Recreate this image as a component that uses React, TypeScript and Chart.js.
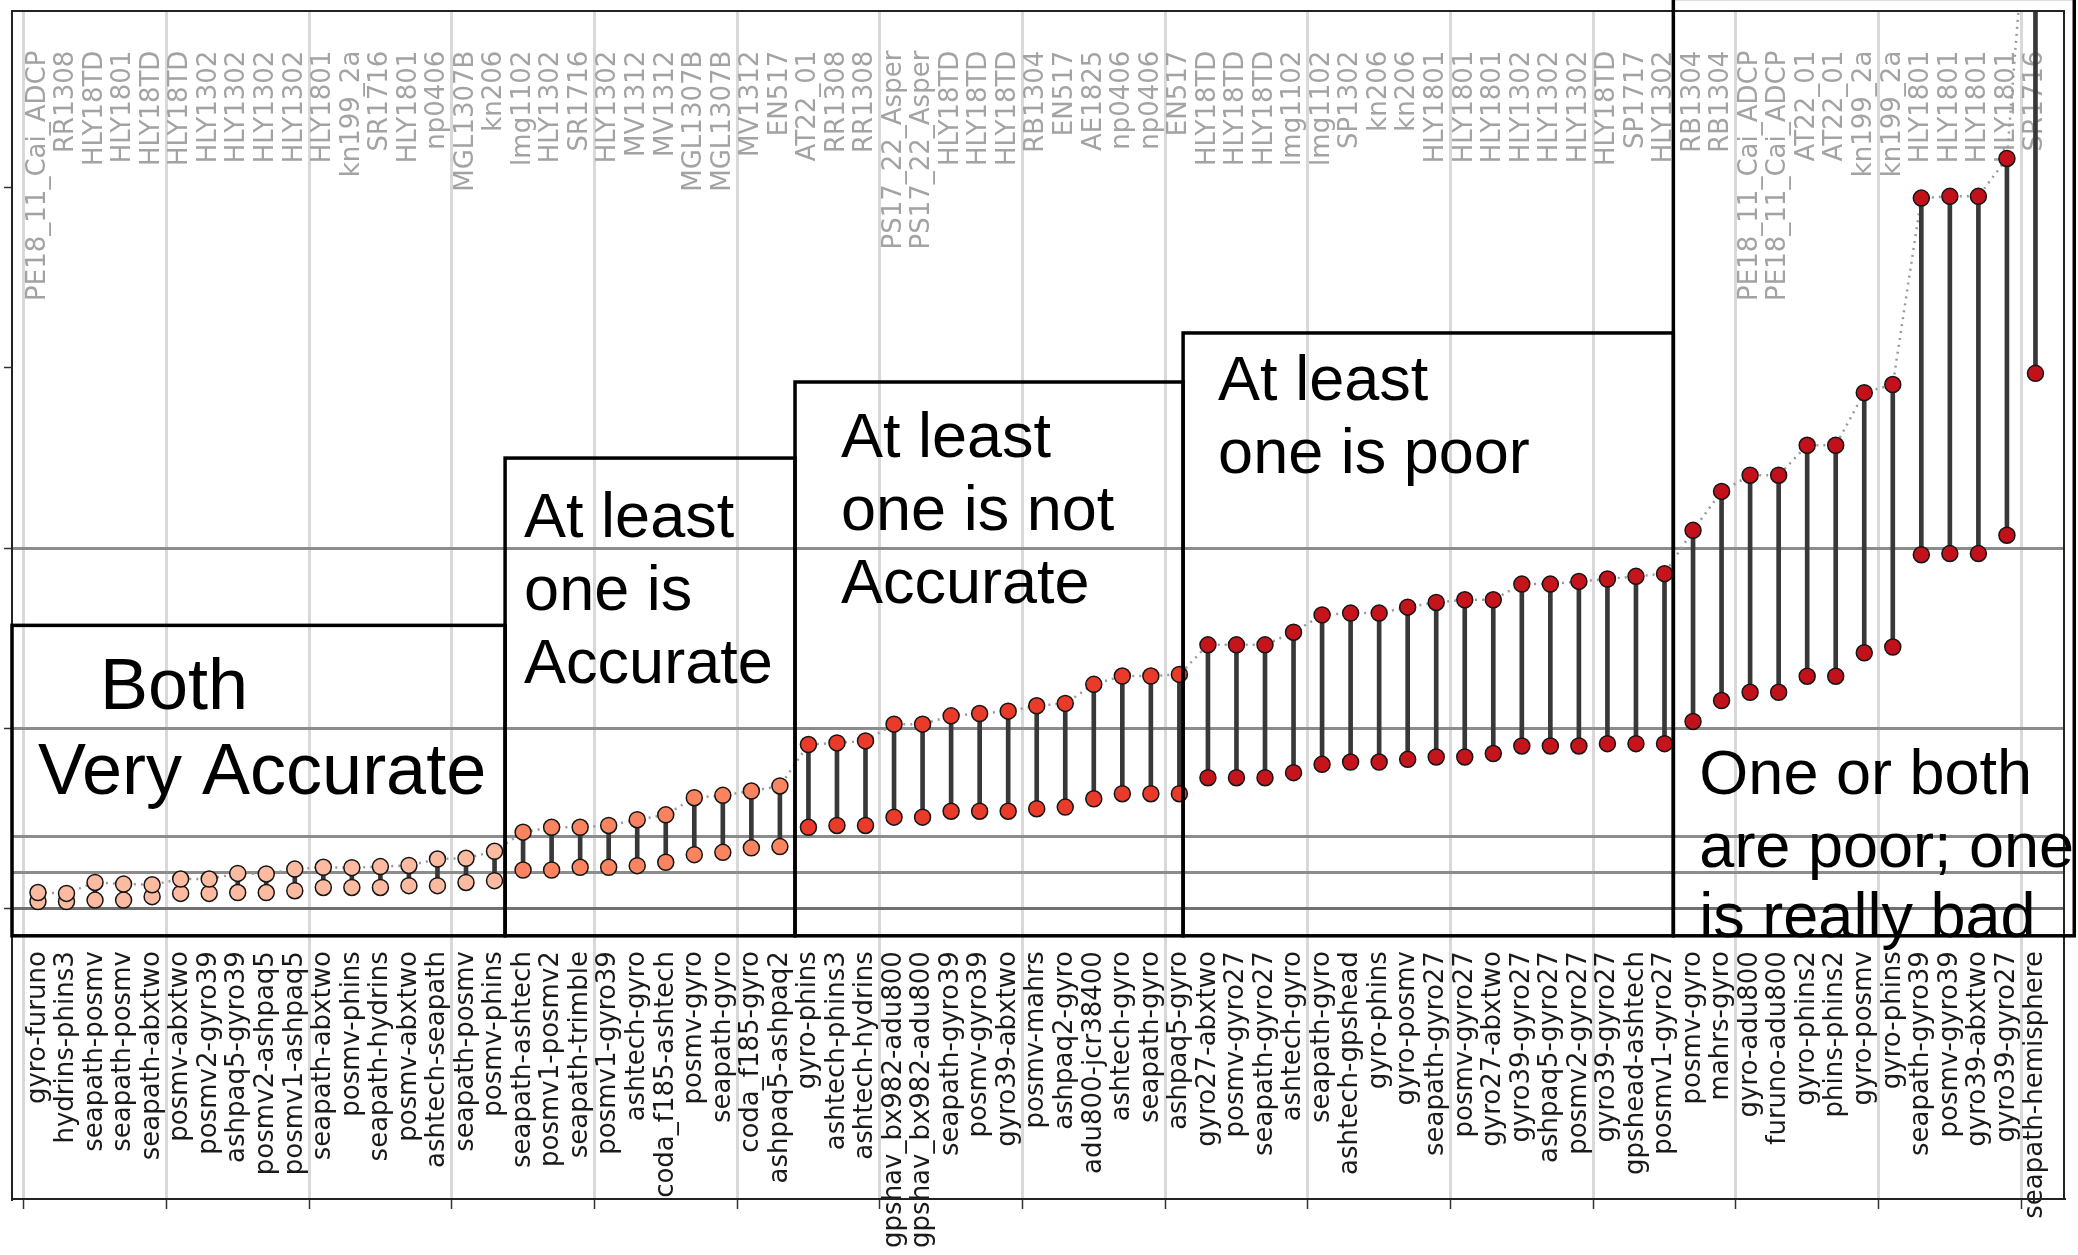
import React, { useEffect, useRef } from "react";
import { Chart, registerables } from "chart.js";

Chart.register(...registerables);

// Sensor pairs, ordered by the larger of the two errors
const pairs = [
  "gyro-furuno", "hydrins-phins3", "seapath-posmv", "seapath-posmv", "seapath-abxtwo",
  "posmv-abxtwo", "posmv2-gyro39", "ashpaq5-gyro39", "posmv2-ashpaq5", "posmv1-ashpaq5",
  "seapath-abxtwo", "posmv-phins", "seapath-hydrins", "posmv-abxtwo", "ashtech-seapath",
  "seapath-posmv", "posmv-phins", "seapath-ashtech", "posmv1-posmv2", "seapath-trimble",
  "posmv1-gyro39", "ashtech-gyro", "coda_f185-ashtech", "posmv-gyro", "seapath-gyro",
  "coda_f185-gyro", "ashpaq5-ashpaq2", "gyro-phins", "ashtech-phins3", "ashtech-hydrins",
  "gpshav_bx982-adu800", "gpshav_bx982-adu800", "seapath-gyro39", "posmv-gyro39", "gyro39-abxtwo",
  "posmv-mahrs", "ashpaq2-gyro", "adu800-jcr38400", "ashtech-gyro", "seapath-gyro",
  "ashpaq5-gyro", "gyro27-abxtwo", "posmv-gyro27", "seapath-gyro27", "ashtech-gyro",
  "seapath-gyro", "ashtech-gpshead", "gyro-phins", "gyro-posmv", "seapath-gyro27",
  "posmv-gyro27", "gyro27-abxtwo", "gyro39-gyro27", "ashpaq5-gyro27", "posmv2-gyro27",
  "gyro39-gyro27", "gpshead-ashtech", "posmv1-gyro27", "posmv-gyro", "mahrs-gyro",
  "gyro-adu800", "furuno-adu800", "gyro-phins2", "phins-phins2", "gyro-posmv",
  "gyro-phins", "seapath-gyro39", "posmv-gyro39", "gyro39-abxtwo", "gyro39-gyro27",
  "seapath-hemisphere",
];

// Cruise each pair comes from
const cruises = [
  "PE18_11_Cai_ADCP", "RR1308", "HLY18TD", "HLY1801", "HLY18TD",
  "HLY18TD", "HLY1302", "HLY1302", "HLY1302", "HLY1302",
  "HLY1801", "kn199_2a", "SR1716", "HLY1801", "np0406",
  "MGL1307B", "kn206", "lmg1102", "HLY1302", "SR1716",
  "HLY1302", "MV1312", "MV1312", "MGL1307B", "MGL1307B",
  "MV1312", "EN517", "AT22_01", "RR1308", "RR1308",
  "PS17_22_Asper", "PS17_22_Asper", "HLY18TD", "HLY18TD", "HLY18TD",
  "RB1304", "EN517", "AE1825", "np0406", "np0406",
  "EN517", "HLY18TD", "HLY18TD", "HLY18TD", "lmg1102",
  "lmg1102", "SP1302", "kn206", "kn206", "HLY1801",
  "HLY1801", "HLY1801", "HLY1302", "HLY1302", "HLY1302",
  "HLY18TD", "SP1717", "HLY1302", "RB1304", "RB1304",
  "PE18_11_Cai_ADCP", "PE18_11_Cai_ADCP", "AT22_01", "AT22_01", "kn199_2a",
  "kn199_2a", "HLY1801", "HLY1801", "HLY1801", "HLY1801",
  "SR1716",
];

// Smaller error of each pair
const lowErr = [
  0.04, 0.04, 0.048, 0.048, 0.067, 0.085, 0.085, 0.09, 0.09, 0.1,
  0.118, 0.118, 0.118, 0.128, 0.128, 0.146, 0.156,
  0.215, 0.215, 0.23, 0.23, 0.239, 0.258, 0.3, 0.313, 0.338, 0.345,
  0.452, 0.462, 0.462, 0.508, 0.508, 0.541, 0.541, 0.541, 0.555, 0.564,
  0.61, 0.638, 0.638, 0.638,
  0.727, 0.727, 0.727, 0.755, 0.801, 0.814, 0.814, 0.829, 0.842, 0.842,
  0.861, 0.903, 0.903, 0.903, 0.916, 0.916, 0.916,
  1.039, 1.155, 1.201, 1.201, 1.29, 1.29, 1.42, 1.452, 1.964, 1.97,
  1.97, 2.072, 2.97,
];

// Larger error of each pair
const highErr = [
  0.09, 0.085, 0.146, 0.137, 0.133, 0.165, 0.165, 0.196, 0.193, 0.22,
  0.23, 0.228, 0.234, 0.24, 0.276, 0.28, 0.319,
  0.425, 0.452, 0.452, 0.462, 0.494, 0.521, 0.616, 0.629, 0.653, 0.681,
  0.911, 0.92, 0.931, 1.024, 1.024, 1.07, 1.083, 1.096, 1.126, 1.139,
  1.245, 1.291, 1.291, 1.3,
  1.464, 1.464, 1.464, 1.534, 1.63, 1.64, 1.64, 1.673, 1.699, 1.714,
  1.714, 1.801, 1.801, 1.816, 1.829, 1.844, 1.859,
  2.099, 2.315, 2.405, 2.405, 2.571, 2.571, 2.863, 2.908, 3.942, 3.952,
  3.952, 4.162, 6.2,
];

// Number of pairs in each accuracy class, left to right
const groupSizes = [17, 10, 14, 17, 13];
const groupColors = ["#fcbba1", "#f9845f", "#ea3b2a", "#c6141c", "#c3111b"];

// Class captions
const classLabels = [
  ["Both", "Very Accurate"],
  ["At least", "one is", "Accurate"],
  ["At least", "one is not", "Accurate"],
  ["At least", "one is poor"],
  ["One or both", "are poor; one", "is really bad"],
];

// Reference levels and axis ticks
const thresholds = [0.2, 0.4, 1, 2];
const yTicks = [0, 1, 2, 3, 4];

// Caption boxes (data units) and text placement (px from the box's top-left)
const boxExtents = [
  { x0: -0.91, x1: 16.37, top: 1.572 },
  { x0: 16.37, x1: 26.53, top: 2.5 },
  { x0: 26.53, x1: 40.13, top: 2.922 },
  { x0: 40.13, x1: 57.31, top: 3.194 },
  { x0: 57.31, x1: 71.36, top: 5.05 },
];
const boxBottom = -0.15;
const boxText = [
  { size: 72, at: [[88, 84], [26, 169]] },
  { size: 63, at: [[19, 79], [19, 152], [19, 225]] },
  { size: 63, at: [[46, 75], [46, 148], [46, 221]] },
  { size: 63, at: [[35, 67], [35, 140]] },
  { size: 63, at: [[26, 796], [26, 869], [26, 939]] },
];

const X_MIN = -0.91;
const X_MAX = 71.0;
const Y_MIN = -1.61;
const Y_MAX = 4.98;
const CRUISE_LABEL_TOP = 4.76;
const PAIR_LABEL_TOP = -0.235;

function drawUpright(ctx: CanvasRenderingContext2D, text: string, x: number, top: number) {
  ctx.save();
  ctx.translate(x, top);
  ctx.rotate(-Math.PI / 2);
  ctx.fillText(text, 0, 0);
  ctx.restore();
}

const annotate = {
  id: "annotate",
  beforeDatasetsDraw(chart: any) {
    const { ctx } = chart;
    const xs = chart.scales.x;
    const ys = chart.scales.y;
    ctx.save();
    ctx.font = '26px "DejaVu Sans"';
    ctx.textAlign = "right";
    ctx.textBaseline = "middle";
    const topY = ys.getPixelForValue(CRUISE_LABEL_TOP);
    const botY = ys.getPixelForValue(PAIR_LABEL_TOP);
    pairs.forEach((p, i) => {
      const px = xs.getPixelForValue(i);
      ctx.fillStyle = "#a3a3a3";
      drawUpright(ctx, cruises[i], px, topY);
      ctx.fillStyle = "#1a1a1a";
      drawUpright(ctx, p, px, botY);
    });
    ctx.restore();
  },
  afterDatasetsDraw(chart: any) {
    const { ctx, chartArea } = chart;
    const xs = chart.scales.x;
    const ys = chart.scales.y;
    ctx.save();
    // axes frame
    ctx.strokeStyle = "#222";
    ctx.lineWidth = 2;
    ctx.strokeRect(chartArea.left, chartArea.top, chartArea.right - chartArea.left, chartArea.bottom - chartArea.top);

    // caption boxes
    const bottom = ys.getPixelForValue(boxBottom);
    ctx.strokeStyle = "#000";
    ctx.lineWidth = 3.5;
    ctx.fillStyle = "#000";
    ctx.textAlign = "left";
    ctx.textBaseline = "alphabetic";
    boxExtents.forEach((b, k) => {
      const left = xs.getPixelForValue(b.x0);
      const right = xs.getPixelForValue(b.x1);
      const top = ys.getPixelForValue(b.top);
      ctx.strokeRect(left, top, right - left, bottom - top);
      const t = boxText[k];
      ctx.font = `${t.size}px "Liberation Sans", Arial, sans-serif`;
      classLabels[k].forEach((line, j) => {
        ctx.fillText(line, left + t.at[j][0], top + t.at[j][1]);
      });
    });
    ctx.restore();
  },
};

export default function App() {
  const ref = useRef<HTMLCanvasElement>(null);

  useEffect(() => {
    document.body.style.margin = "0";
    const canvas = ref.current;
    if (!canvas) return;

    const idx = pairs.map((_, i) => i);
    const groupOf: number[] = [];
    groupSizes.forEach((s, g) => {
      for (let k = 0; k < s; k++) groupOf.push(g);
    });
    const fill = groupOf.map((g) => groupColors[g]);

    const yMarks = [...new Set([...yTicks, ...thresholds])].sort((a, b) => a - b);
    const xMarks: number[] = [];
    for (let v = -0.5; v < pairs.length; v += 5) xMarks.push(v);

    const chart = new Chart(canvas, {
      type: "scatter",
      data: {
        datasets: [
          {
            type: "scatter",
            data: idx.map((i) => ({ x: i, y: highErr[i] })),
            pointBackgroundColor: fill,
            pointBorderColor: "#151515",
            pointBorderWidth: 1.5,
            pointRadius: 8,
            order: 0,
          },
          {
            type: "scatter",
            data: idx.map((i) => ({ x: i, y: lowErr[i] })),
            pointBackgroundColor: fill,
            pointBorderColor: "#151515",
            pointBorderWidth: 1.5,
            pointRadius: 8,
            order: 1,
          },
          {
            type: "bar",
            data: idx.map((i) => ({ x: i, y: [lowErr[i], highErr[i]] })),
            backgroundColor: "#383838",
            borderWidth: 0,
            barThickness: 4,
            order: 2,
          } as any,
          {
            type: "line",
            data: idx.map((i) => ({ x: i, y: highErr[i] })),
            borderColor: "#9a9a9a",
            borderWidth: 2.5,
            borderDash: [2, 5],
            pointRadius: 0,
            fill: false,
            tension: 0,
            order: 3,
          },
        ],
      },
      options: {
        responsive: false,
        maintainAspectRatio: false,
        devicePixelRatio: 1,
        animation: false,
        events: [],
        layout: { padding: { left: 0, right: 14, top: 11, bottom: 0 } },
        plugins: {
          legend: { display: false },
          tooltip: { enabled: false },
        },
        scales: {
          x: {
            type: "linear",
            min: X_MIN,
            max: X_MAX,
            offset: false,
            afterBuildTicks: (scale: any) => {
              scale.ticks = xMarks.map((v) => ({ value: v }));
            },
            afterFit: (scale: any) => {
              scale.height = 56;
            },
            ticks: { display: false },
            grid: {
              offset: false,
              color: "#d9d9d9",
              lineWidth: 3,
              drawTicks: true,
              tickLength: 10,
              tickColor: "#333",
              tickWidth: 1.5,
            },
            border: { display: true, color: "#222", width: 2 },
          },
          y: {
            type: "linear",
            min: Y_MIN,
            max: Y_MAX,
            beginAtZero: false,
            afterBuildTicks: (scale: any) => {
              scale.ticks = yMarks.map((v) => ({ value: v }));
            },
            afterFit: (scale: any) => {
              scale.width = 12;
            },
            ticks: { display: false },
            grid: {
              color: (c: any) => {
                const v = c.tick ? c.tick.value : NaN;
                if (v === 0) return "#707070";
                return thresholds.includes(v) ? "#8c8c8c" : "rgba(0,0,0,0)";
              },
              lineWidth: 3,
              drawTicks: true,
              tickLength: 8,
              tickColor: (c: any) => {
                const v = c.tick ? c.tick.value : NaN;
                return yTicks.includes(v) ? "#333" : "rgba(0,0,0,0)";
              },
              tickWidth: 1.5,
            },
            border: { display: true, color: "#222", width: 2 },
          },
        },
      },
      plugins: [annotate],
    } as any);

    return () => chart.destroy();
  }, []);

  return (
    <div style={{ position: "fixed", left: 0, top: 0, width: 2078, height: 1255, background: "#fff" }}>
      <canvas ref={ref} width={2078} height={1255} style={{ display: "block" }} />
    </div>
  );
}
